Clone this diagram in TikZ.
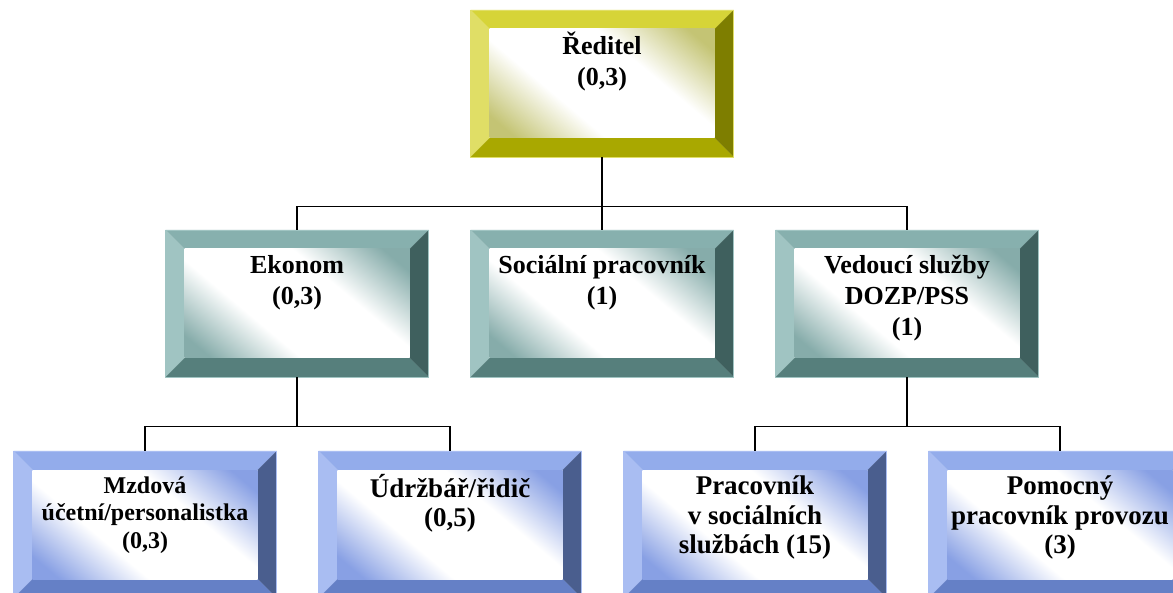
\documentclass[tikz,border=0pt]{standalone}
\usepackage{fontspec}
\setmainfont{Liberation Serif}
\usetikzlibrary{positioning}

% bevel colours: top, left, right, bottom, inner tint
\definecolor{yTop}{HTML}{D6D438}
\definecolor{yLeft}{HTML}{E0DE66}
\definecolor{yRight}{HTML}{7E7E00}
\definecolor{yBot}{HTML}{A9A800}
\definecolor{yTint}{HTML}{C4C474}
\definecolor{tTop}{HTML}{87B0AE}
\definecolor{tLeft}{HTML}{A0C4C2}
\definecolor{tRight}{HTML}{3F605E}
\definecolor{tBot}{HTML}{567F7C}
\definecolor{tTint}{HTML}{86ACAA}
\definecolor{bTop}{HTML}{93ACEB}
\definecolor{bLeft}{HTML}{A9BDF2}
\definecolor{bRight}{HTML}{4A5E8E}
\definecolor{bBot}{HTML}{6580C6}
\definecolor{bTint}{HTML}{88A0E4}

% inner glow: tint in two corners, white in the middle
\pgfdeclareverticalshading{yGlow}{100bp}{color(0bp)=(yTint); color(20bp)=(yTint); color(38bp)=(white); color(62bp)=(white); color(80bp)=(yTint); color(100bp)=(yTint)}
\pgfdeclareverticalshading{tGlow}{100bp}{color(0bp)=(tTint); color(20bp)=(tTint); color(38bp)=(white); color(62bp)=(white); color(80bp)=(tTint); color(100bp)=(tTint)}
\pgfdeclareverticalshading{bGlow}{100bp}{color(0bp)=(bTint); color(20bp)=(bTint); color(38bp)=(white); color(62bp)=(white); color(80bp)=(bTint); color(100bp)=(bTint)}

\newcommand{\boxtxt}[2][22pt]{\parbox[t][147pt][t]{250pt}{\centering\vspace*{#1}\strut #2}}

\begin{document}
\begin{tikzpicture}[x=1pt, y=-1pt,
   bevel/.style n args = {5}{rectangle, inner sep=0pt, minimum width=263pt, minimum height=147pt,
        draw=#2, line width=0.8pt,
        path picture={
          \coordinate (nw) at (path picture bounding box.north west);
          \coordinate (ne) at (path picture bounding box.north east);
          \coordinate (sw) at (path picture bounding box.south west);
          \coordinate (se) at (path picture bounding box.south east);
          \fill[#1] (nw) -- (ne) -- ([shift={(-19pt,-19pt)}]ne) -- ([shift={(19pt,-19pt)}]nw) -- cycle;
          \fill[#2] (nw) -- (sw) -- ([shift={(19pt,19pt)}]sw) -- ([shift={(19pt,-19pt)}]nw) -- cycle;
          \fill[#3] (ne) -- (se) -- ([shift={(-19pt,19pt)}]se) -- ([shift={(-19pt,-19pt)}]ne) -- cycle;
          \fill[#4] (sw) -- (se) -- ([shift={(-19pt,19pt)}]se) -- ([shift={(19pt,19pt)}]sw) -- cycle;
          \shade[shading=#5, shading angle=-40]
             ([shift={(19pt,-19pt)}]nw) rectangle ([shift={(-19pt,19pt)}]se);
        }},
   ybox/.style = {bevel={yTop}{yLeft}{yRight}{yBot}{yGlow}, font=\bfseries\fontsize{26}{31}\selectfont},
   tbox/.style = {bevel={tTop}{tLeft}{tRight}{tBot}{tGlow}, font=\bfseries\fontsize{26}{31}\selectfont},
   bbox/.style = {bevel={bTop}{bLeft}{bRight}{bBot}{bGlow}, font=\bfseries\fontsize{24}{27.5}\selectfont},
   big/.style  = {font=\bfseries\fontsize{27}{29.5}\selectfont},
   link/.style = {draw=black, line width=1.6pt}
                        ]
\useasboundingbox (0,0) rectangle (1173,593);
% boxes
\node (red) [ybox] at (602,83.5)  {\boxtxt{Ředitel\\(0,3)}};
\node (eko) [tbox] at (297,303.5) {\boxtxt{Ekonom\\(0,3)}};
\node (soc) [tbox] at (602,303.5) {\boxtxt{Sociální pracovník\\(1)}};
\node (ved) [tbox] at (907,303.5) {\boxtxt{Vedoucí služby\\DOZP/PSS\\(1)}};
\node (mzd) [bbox] at (145,524.5) {\boxtxt[23pt]{Mzdová\\účetní/personalistka\\(0,3)}};
\node (udr) [bbox, big] at (450,524.5) {\boxtxt[23pt]{Údržbář/řidič\\(0,5)}};
\node (prc) [bbox, big] at (755,524.5) {\boxtxt[23pt]{Pracovník\\v sociálních\\službách (15)}};
\node (pom) [bbox, big] at (1060,524.5) {\boxtxt[23pt]{Pomocný\\pracovník provozu\\(3)}};
% connectors
\draw[link] (red.south) -- ++(0,49) -| (eko.north);
\draw[link] (red.south) -- ++(0,49) -| (ved.north);
\draw[link] (red.south) -- (soc.north);
\draw[link] (eko.south) -- ++(0,49) -| (mzd.north);
\draw[link] (eko.south) -- ++(0,49) -| (udr.north);
\draw[link] (ved.south) -- ++(0,49) -| (prc.north);
\draw[link] (ved.south) -- ++(0,49) -| (pom.north);
\end{tikzpicture}
\end{document}
